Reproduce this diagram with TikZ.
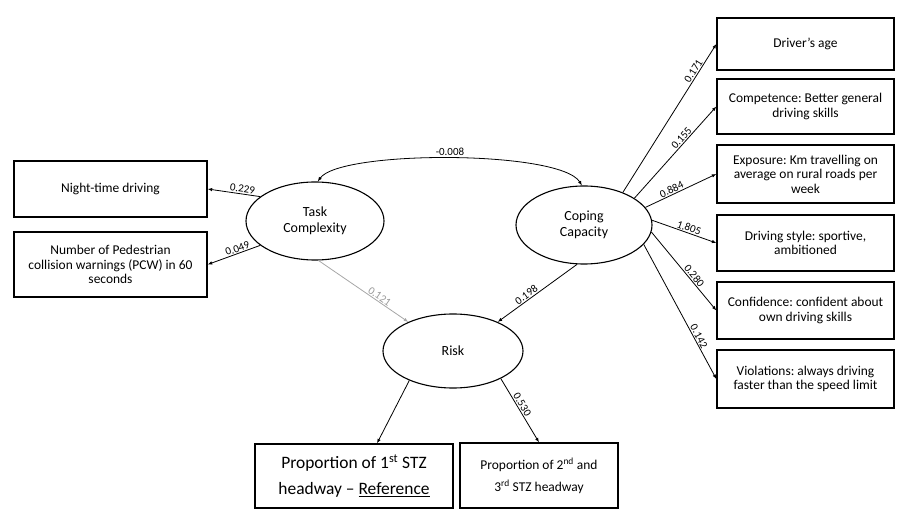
\documentclass[tikz,border=0pt]{standalone}
\usepackage{fontspec}
\setmainfont{Carlito}
\usetikzlibrary{arrows.meta,shapes.geometric}
\frenchspacing
\begin{document}
\begin{tikzpicture}[x=1bp,y=-1bp,
  box/.style={draw, line width=1.3bp, fill=white, align=center, inner sep=2bp,
    font=\fontsize{13.5}{14.5}\selectfont},
  latent/.style={draw, ellipse, line width=1.1bp, align=center, inner sep=0pt,
    font=\fontsize{14}{16}\selectfont},
  path/.style={line width=0.8bp, -{Latex[length=4.5bp,width=3.5bp]}},
  coef/.style={font=\fontsize{11}{11}\selectfont, sloped, above, inner sep=1bp}
]
\useasboundingbox (0,0) rectangle (898,510);

% latent variables
\node[latent, minimum width=138bp, minimum height=78bp] (tc) at (315,221) {Task\\Complexity};
\node[latent, minimum width=136bp, minimum height=78bp] (cc) at (584,225) {Coping\\Capacity};
\node[latent, minimum width=140bp, minimum height=74bp] (risk) at (453,351) {Risk};

% task complexity indicators
\node[box, minimum width=193bp, minimum height=56bp] (night) at (110.5,189) {Night-time driving};
\node[box, minimum width=193bp, minimum height=65bp] (pcw) at (110.5,264.5)
  {Number of Pedestrian\\collision warnings (PCW) in 60\\seconds};

% coping capacity indicators
\node[box, minimum width=177bp, minimum height=52bp] (age) at (805.5,44) {Driver's age};
\node[box, minimum width=177bp, minimum height=55bp] (comp) at (805.5,106.5)
  {Competence: Better general\\driving skills};
\node[box, minimum width=177bp, minimum height=58bp] (expo) at (805.5,174)
  {Exposure: Km travelling on\\average on rural roads per\\week};
\node[box, minimum width=177bp, minimum height=56bp] (style) at (805.5,243)
  {Driving style: sportive,\\ambitioned};
\node[box, minimum width=177bp, minimum height=57bp] (conf) at (805.5,310.5)
  {Confidence: confident about\\own driving skills};
\node[box, minimum width=177bp, minimum height=58bp] (viol) at (805.5,379)
  {Violations: always driving\\faster than the speed limit};

% risk outcomes
\node[box, minimum width=198bp, minimum height=64bp,
  font=\fontsize{17.5}{26}\selectfont] (p1) at (354,476)
  {Proportion of 1\textsuperscript{st} STZ\\headway -- \underline{Reference}};
\node[box, minimum width=158bp, minimum height=65bp,
  font=\fontsize{13.5}{22}\selectfont] (p2) at (539,475.5)
  {Proportion of 2\textsuperscript{nd} and\\3\textsuperscript{rd} STZ headway};

% covariance between the latent factors
\draw[line width=0.8bp, {Latex[length=4.5bp,width=3.5bp]}-{Latex[length=4.5bp,width=3.5bp]}]
  (tc.86) .. controls (340,150) and (560,150) .. (cc.93)
  node[pos=0.5, above, font=\fontsize{11}{11}\selectfont, inner sep=2bp] {-0.008};

% loadings of task complexity
\draw[path] (tc.156) -- (night.east) node[coef, pos=0.35] {0.229};
\draw[path] (tc.204) -- (pcw.east) node[coef, pos=0.4] {0.049};

% loadings of coping capacity
\draw[path] (cc.40) -- (age.west) node[coef, pos=0.8] {0.171};
\draw[path] (cc.28) -- (comp.west) node[coef, pos=0.62] {0.155};
\draw[path] (cc.16) -- (expo.west) node[coef, pos=0.4] {0.884};
\draw[path] (cc.4) -- (style.west) node[coef, pos=0.55] {1.805};
\draw[path] (cc.-6) -- (conf.west) node[coef, pos=0.6] {0.280};
\draw[path] (cc.-18) -- (viol.west) node[coef, pos=0.7] {0.142};

% structural paths
\draw[path, gray!70] (tc.-85) -- (risk.147) node[coef, pos=0.65, text=gray!80] {0.121};
\draw[path] (cc.-100) -- (risk.33) node[coef, pos=0.6] {0.198};

% risk to outcomes
\draw[path] (risk.214) -- ([xshift=23bp]p1.north);
\draw[path] (risk.-30) -- (p2.north) node[coef, pos=0.45] {0.530};
\end{tikzpicture}
\end{document}
